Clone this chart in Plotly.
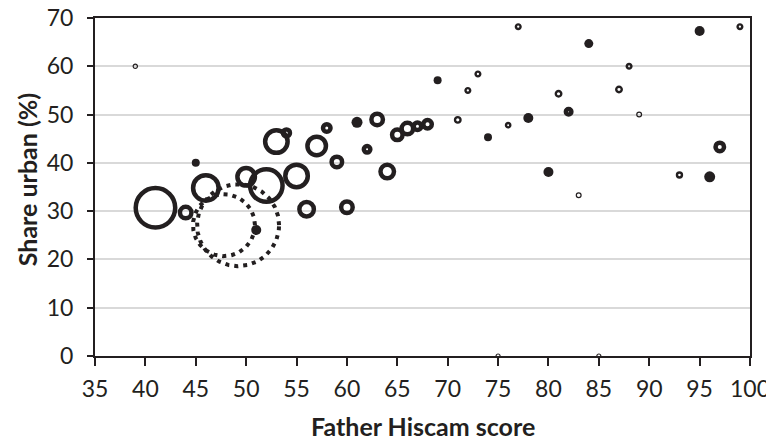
import numpy as np
import plotly.graph_objects as go

# ---------------- data ----------------
# bubbles with a heavy outline
thick_x = [41, 44, 46, 50, 52, 53, 54, 55, 56, 57, 58, 59, 60, 62, 63, 64, 65, 66, 67, 68, 82, 97]
thick_y = [30.7, 29.7, 34.8, 37.1, 35.3, 44.4, 46.2, 37.3, 30.4, 43.5, 47.2, 40.2, 30.8, 42.8,
           49.0, 38.2, 45.8, 47.1, 47.6, 48.0, 50.6, 43.3]
thick_size = [39.5, 11.5, 25.5, 17.5, 32.5, 22.5, 7, 22.5, 14.5, 18.5, 7.5, 10.5, 11.5, 6.5,
              11.5, 13.5, 10.5, 11.5, 7.5, 8.5, 5.5, 8.5]

# bubbles with a medium outline
medium_x = [71, 72, 73, 76, 77, 81, 87, 88, 93, 99]
medium_y = [48.9, 55.0, 58.4, 47.8, 68.2, 54.3, 55.2, 60.0, 37.5, 68.2]
medium_size = [5.5, 4.7, 4.7, 4.3, 4.7, 5.5, 5.5, 4.7, 5.0, 4.7]

# bubbles with a thin outline
thin_x = [39, 75, 83, 85, 89]
thin_y = [60.0, 0, 33.3, 0, 50.0]
thin_size = [4.3, 4, 4.8, 4, 4.8]

# small solid bubbles
filled_x = [45, 51, 61, 69, 74, 78, 80, 84, 95, 96]
filled_y = [40.0, 26.1, 48.4, 57.1, 45.3, 49.3, 38.1, 64.7, 67.3, 37.1]
filled_size = [8, 10, 11, 8, 8, 10, 10, 9, 10, 11]

# dotted bubbles
dotted_x = [47.8, 49.2]
dotted_y = [27.1, 27.1]
dotted_size = [62, 82]

x_ticks = [35, 40, 45, 50, 55, 60, 65, 70, 75, 80, 85, 90, 95, 100]
y_ticks = [0, 10, 20, 30, 40, 50, 60, 70]

x_title = "Father Hiscam score"
y_title = "Share urban (%)"

# ---------------- layout constants ----------------
# the page body has an 8px margin, so the figure is 8px smaller than the window
WIDTH, HEIGHT = 766, 434
ML, MR, MT, MB = 87, 24, 10, 86
XR = [35, 100]
YR = [0, 70]
INK = "#231f20"
FONT = "Lato"

fig = go.Figure()

def bubble(x, y, s, lw):
    fig.add_trace(go.Scatter(
        x=x, y=y, mode="markers", cliponaxis=False, showlegend=False,
        marker=dict(symbol="circle-open", size=s, sizemode="diameter", sizeref=1,
                    opacity=1, color=INK, line=dict(color=INK, width=lw)),
    ))

bubble(thick_x, thick_y, thick_size, 4.5)
bubble(medium_x, medium_y, medium_size, 2.4)
bubble(thin_x, thin_y, thin_size, 1.2)

fig.add_trace(go.Scatter(
    x=filled_x, y=filled_y, mode="markers", cliponaxis=False, showlegend=False,
    marker=dict(symbol="circle", size=filled_size, sizemode="diameter", sizeref=1,
                opacity=1, color=INK, line=dict(width=0)),
))

# dotted bubbles drawn as dotted outlines (pixel diameter converted to data units)
pw = WIDTH - ML - MR
ph = HEIGHT - MT - MB
xs = (XR[1] - XR[0]) / pw
ys = (YR[1] - YR[0]) / ph
t = np.linspace(0, 2 * np.pi, 361)
for cx, cy, d in zip(dotted_x, dotted_y, dotted_size):
    r = d / 2
    fig.add_trace(go.Scatter(
        x=cx + r * xs * np.cos(t), y=cy + r * ys * np.sin(t), mode="lines",
        showlegend=False, hoverinfo="skip",
        line=dict(color=INK, width=4, dash="4px,5px"),
    ))

fig.update_layout(
    width=WIDTH, height=HEIGHT,
    margin=dict(l=ML, r=MR, t=MT, b=MB),
    paper_bgcolor="white", plot_bgcolor="white",
    font=dict(family=FONT, color=INK, size=22),
    showlegend=False,
    annotations=[
        dict(text="<b>%s</b>" % x_title, xref="paper", yref="paper",
             x=0.5, y=-70 / ph, xanchor="center", yanchor="middle",
             showarrow=False, font=dict(size=25, family=FONT, color=INK)),
        dict(text="<b>%s</b>" % y_title, xref="paper", yref="paper",
             x=-68 / pw, y=0.52, xanchor="center", yanchor="middle", textangle=-90,
             showarrow=False, font=dict(size=25, family=FONT, color=INK)),
    ],
)
fig.update_xaxes(
    range=XR, tickvals=x_ticks, ticktext=[str(v) for v in x_ticks],
    showgrid=False, zeroline=False, automargin=False,
    showline=True, linecolor=INK, linewidth=2, mirror=True,
    ticks="outside", ticklen=8, tickwidth=1.5, tickcolor=INK,
    ticklabelstandoff=3, ticklabeloverflow="allow",
    tickfont=dict(size=23, family=FONT, color=INK),
)
fig.update_yaxes(
    range=YR, tickvals=y_ticks, ticktext=[str(v) for v in y_ticks],
    showgrid=True, gridcolor="#d9d9d9", gridwidth=1.5, zeroline=False, automargin=False,
    showline=True, linecolor=INK, linewidth=2, mirror=True,
    ticks="outside", ticklen=6, tickwidth=1.5, tickcolor=INK,
    ticklabelstandoff=9, ticklabeloverflow="allow",
    tickfont=dict(size=23, family=FONT, color=INK),
)

fig.write_html("out.html")
